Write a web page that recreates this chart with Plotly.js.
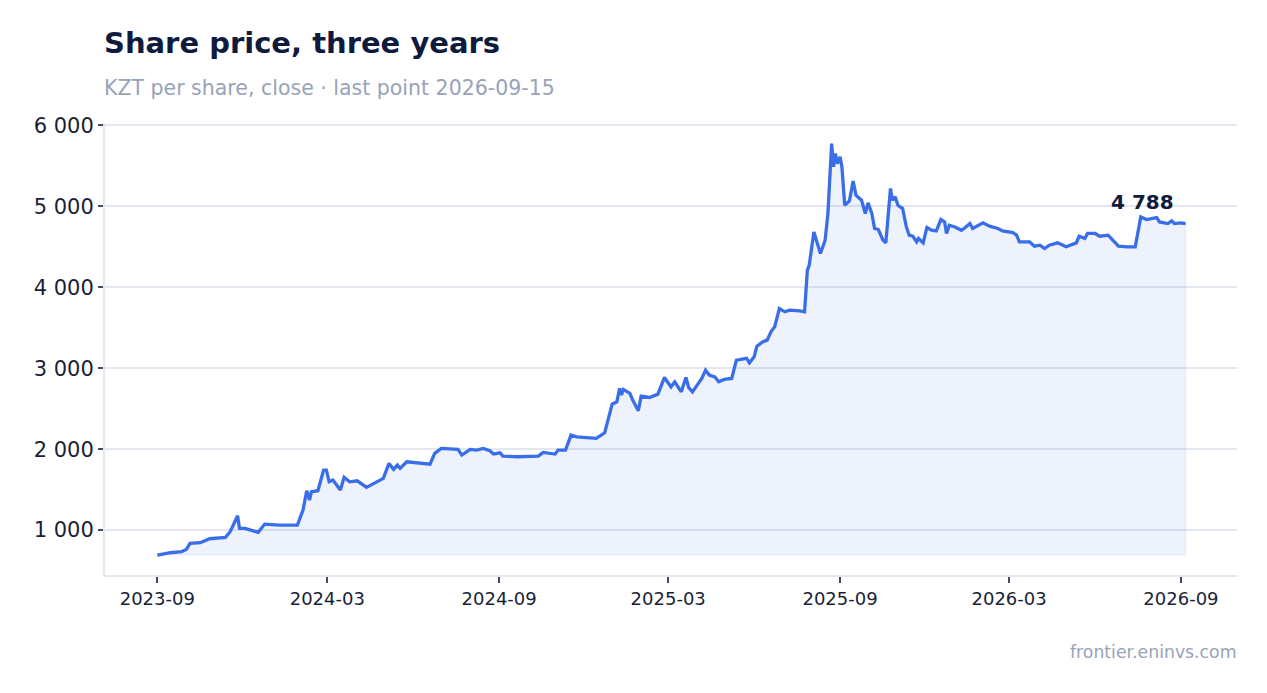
<!DOCTYPE html>
<html>
<head>
<meta charset="utf-8">
<script src="https://cdn.plot.ly/plotly-3.0.1.min.js"></script>
<style>
  html, body { margin: 0; padding: 0; background: #ffffff; }
  #chart { width: 1267px; height: 693px; }
</style>
</head>
<body>
<div id="chart"></div>
<script>
// Share price, three years (KZT per share, close)

const dates = [
    '2023-09-01', '2023-09-15', '2023-09-27', '2023-10-02', '2023-10-06', '2023-10-17', '2023-10-27',
    '2023-11-13', '2023-11-18', '2023-11-26', '2023-11-28', '2023-12-04', '2023-12-18', '2023-12-25',
    '2024-01-10', '2024-01-29', '2024-02-04', '2024-02-08', '2024-02-11', '2024-02-13', '2024-02-20',
    '2024-02-26', '2024-02-29', '2024-03-03', '2024-03-07', '2024-03-15', '2024-03-19', '2024-03-25',
    '2024-04-02', '2024-04-12', '2024-04-20', '2024-04-30', '2024-05-06', '2024-05-11', '2024-05-15',
    '2024-05-18', '2024-05-25', '2024-06-05', '2024-06-19', '2024-06-24', '2024-07-01', '2024-07-19',
    '2024-07-23', '2024-08-01', '2024-08-08', '2024-08-15', '2024-08-22', '2024-08-26', '2024-09-02',
    '2024-09-05', '2024-09-20', '2024-10-13', '2024-10-18', '2024-10-31', '2024-11-03', '2024-11-11',
    '2024-11-17', '2024-11-23', '2024-12-03', '2024-12-14', '2024-12-23', '2024-12-28', '2024-12-31',
    '2025-01-05', '2025-01-08', '2025-01-10', '2025-01-12', '2025-01-19', '2025-01-22', '2025-01-28',
    '2025-01-31', '2025-02-09', '2025-02-18', '2025-02-25', '2025-03-04', '2025-03-08', '2025-03-15',
    '2025-03-20', '2025-03-23', '2025-03-27', '2025-04-06', '2025-04-10', '2025-04-14', '2025-04-20',
    '2025-04-24', '2025-04-30', '2025-05-08', '2025-05-13', '2025-05-17', '2025-05-24', '2025-05-27',
    '2025-06-01', '2025-06-04', '2025-06-10', '2025-06-15', '2025-06-19', '2025-06-23', '2025-06-28',
    '2025-07-04', '2025-07-09', '2025-07-20', '2025-07-25', '2025-07-28', '2025-07-30', '2025-08-04',
    '2025-08-07', '2025-08-11', '2025-08-16', '2025-08-19', '2025-08-23', '2025-08-25', '2025-08-27',
    '2025-08-29', '2025-09-01', '2025-09-03', '2025-09-06', '2025-09-11', '2025-09-15', '2025-09-18',
    '2025-09-24', '2025-09-28', '2025-10-01', '2025-10-05', '2025-10-08', '2025-10-12', '2025-10-17',
    '2025-10-20', '2025-10-25', '2025-10-27', '2025-10-30', '2025-11-02', '2025-11-07', '2025-11-11',
    '2025-11-14', '2025-11-18', '2025-11-22', '2025-11-24', '2025-11-29', '2025-12-03', '2025-12-08',
    '2025-12-13', '2025-12-18', '2025-12-22', '2025-12-24', '2025-12-27', '2026-01-02', '2026-01-09',
    '2026-01-13', '2026-01-18', '2026-01-21', '2026-01-25', '2026-02-01', '2026-02-08', '2026-02-17',
    '2026-02-22', '2026-03-05', '2026-03-09', '2026-03-12', '2026-03-23', '2026-03-28', '2026-04-03',
    '2026-04-08', '2026-04-13', '2026-04-22', '2026-05-01', '2026-05-12', '2026-05-15', '2026-05-21',
    '2026-05-24', '2026-06-01', '2026-06-06', '2026-06-15', '2026-06-20', '2026-06-26', '2026-07-06',
    '2026-07-14', '2026-07-17', '2026-07-20', '2026-07-26', '2026-08-06', '2026-08-09', '2026-08-18',
    '2026-08-22', '2026-08-25', '2026-09-01', '2026-09-06'
];

const prices = [
    692, 720, 733, 760, 836, 844, 893,
    910, 980, 1177, 1021, 1021, 972, 1074,
    1062, 1062, 1247, 1486, 1371, 1473, 1486,
    1741, 1741, 1597, 1618, 1494, 1651, 1597,
    1609, 1528, 1577, 1639, 1824, 1750, 1803,
    1762, 1844, 1832, 1815, 1948, 2009, 1997,
    1927, 1997, 1988, 2009, 1980, 1939, 1955,
    1914, 1906, 1914, 1960, 1939, 1988, 1988,
    2174, 2153, 2145, 2133, 2202, 2441, 2556,
    2585, 2750, 2668, 2738, 2689, 2606, 2474,
    2655, 2639, 2680, 2886, 2770, 2832, 2708,
    2886, 2760, 2708, 2873, 2976, 2915, 2894,
    2832, 2861, 2873, 3100, 3108, 3121, 3067,
    3141, 3273, 3326, 3347, 3449, 3511, 3738,
    3697, 3717, 3708, 3697, 4211, 4273, 4684,
    4582, 4418, 4582, 4912, 5776, 5488, 5653,
    5529, 5611, 5488, 5014, 5067, 5314, 5138,
    5076, 4912, 5043, 4912, 4727, 4714, 4582,
    4549, 5221, 5076, 5117, 5014, 4973, 4746,
    4644, 4631, 4561, 4603, 4549, 4739, 4705,
    4697, 4837, 4808, 4665, 4767, 4746, 4705,
    4739, 4788, 4727, 4755, 4796, 4755, 4727,
    4697, 4677, 4644, 4561, 4561, 4508, 4520,
    4479, 4520, 4549, 4500, 4549, 4631, 4603,
    4665, 4665, 4631, 4644, 4582, 4508, 4500,
    4500, 4685, 4870, 4837, 4862, 4808, 4788,
    4821, 4788, 4796, 4788
];

const yTicks = [1000, 2000, 3000, 4000, 5000, 6000];
const xTicks = ['2023-09-01', '2024-03-01', '2024-09-01', '2025-03-01', '2025-09-01', '2026-03-01', '2026-09-01'];
const xTickLabels = ['2023-09', '2024-03', '2024-09', '2025-03', '2025-09', '2026-03', '2026-09'];

const titleText = 'Share price, three years';
const subtitleText = 'KZT per share, close · last point 2026-09-15';
const sourceText = 'frontier.eninvs.com';

const LINE_BLUE = '#3a6ee8';
const INK = '#0f1b3d';
const MUTED = '#97a3b8';
const FONT = 'DejaVu Sans, sans-serif';

function buildChart() {
    const floor = Math.min(...prices);
    const lastDate = dates[dates.length - 1];
    const lastPrice = prices[prices.length - 1];

    // shaded area under the line, closed down to the lowest close
    const area = {
        x: dates.concat([lastDate, dates[0]]),
        y: prices.concat([floor, floor]),
        type: 'scatter',
        mode: 'lines',
        fill: 'toself',
        fillcolor: 'rgba(58, 110, 232, 0.09)',
        line: { color: 'rgba(58, 110, 232, 0.10)', width: 1 },
        hoverinfo: 'skip',
        showlegend: false
    };

    const line = {
        x: dates,
        y: prices,
        type: 'scatter',
        mode: 'lines',
        line: { color: LINE_BLUE, width: 3.3 },
        showlegend: false
    };

    const layout = {
        width: 1267,
        height: 693,
        margin: { l: 105, r: 30, t: 123, b: 118 },
        paper_bgcolor: '#ffffff',
        plot_bgcolor: '#ffffff',
        font: { family: FONT, color: '#1a1f36' },
        showlegend: false,
        xaxis: {
            type: 'date',
            range: ['2023-07-07', '2026-10-31'],
            tickvals: xTicks,
            ticktext: xTickLabels,
            ticks: 'outside',
            ticklen: 6,
            tickwidth: 2,
            tickcolor: '#444b5c',
            tickfont: { size: 18, color: '#1a1f36' },
            showgrid: false,
            showline: true,
            linecolor: '#e3e7ef',
            linewidth: 2,
            zeroline: false
        },
        yaxis: {
            range: [445, 6030],
            tickvals: yTicks,
            tickformat: ',d',
            ticks: 'outside',
            ticklen: 5,
            tickwidth: 2,
            tickcolor: '#444b5c',
            tickfont: { size: 21, color: '#1a1f36' },
            showgrid: true,
            gridcolor: '#e4e7f1',
            gridwidth: 2,
            showline: true,
            linecolor: '#e3e7ef',
            linewidth: 2,
            zeroline: false
        },
        separators: '. ',
        annotations: [
            {
                xref: 'paper', yref: 'paper', x: 0, y: 1.177,
                xanchor: 'left', yanchor: 'middle', showarrow: false, xshift: -3,
                text: '<b>' + titleText + '</b>',
                font: { family: FONT, size: 29, color: INK }
            },
            {
                xref: 'paper', yref: 'paper', x: 0, y: 1.077,
                xanchor: 'left', yanchor: 'middle', showarrow: false, xshift: -3,
                text: subtitleText,
                font: { family: FONT, size: 20.5, color: MUTED }
            },
            {
                xref: 'paper', yref: 'paper', x: 1, y: -0.17,
                xanchor: 'right', yanchor: 'middle', showarrow: false, xshift: 2,
                text: sourceText,
                font: { family: FONT, size: 17.3, color: MUTED }
            },
            {
                x: lastDate, y: lastPrice,
                xanchor: 'right', yanchor: 'middle',
                xshift: -10, yshift: 22, showarrow: false,
                text: '<b>4 788</b>',
                font: { family: FONT, size: 20, color: INK }
            }
        ]
    };

    Plotly.newPlot('chart', [area, line], layout, { displayModeBar: false, staticPlot: true });
}

buildChart();
</script>
</body>
</html>
